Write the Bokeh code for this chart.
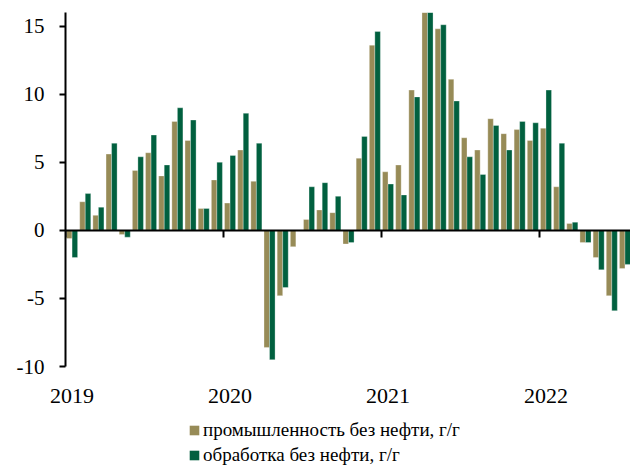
from bokeh.plotting import figure
from bokeh.layouts import column
from bokeh.models import (Range1d, LinearAxis, FixedTicker, Legend, LegendItem, ColumnDataSource)
from bokeh.embed import file_html
from bokeh.resources import INLINE

# Monthly data, Jan 2019 .. Jul 2022
months = list(range(43))
industry = [-0.6, 2.1, 1.1, 5.6, -0.3, 4.4, 5.7, 4.0, 8.0, 6.6, 1.6, 3.7,
            2.0, 5.9, 3.6, -8.6, -4.8, -1.2, 0.8, 1.5, 1.3, -1.0, 5.3, 13.6,
            4.3, 4.8, 10.3, 16.5, 14.8, 11.1, 6.8, 5.9, 8.2, 7.1, 7.4, 6.6,
            7.5, 3.2, 0.5, -0.9, -2.0, -4.8, -2.8]
manufacturing = [-2.0, 2.7, 1.7, 6.4, -0.5, 5.4, 7.0, 4.8, 9.0, 8.1, 1.6, 5.0,
                 5.5, 8.6, 6.4, -9.5, -4.2, 0.0, 3.2, 3.5, 2.5, -0.9, 6.9, 14.6,
                 3.4, 2.6, 9.8, 16.8, 15.1, 9.5, 5.4, 4.1, 7.7, 5.9, 8.0, 7.9,
                 10.3, 6.4, 0.6, -0.9, -2.9, -5.9, -2.5]
year_starts = [0, 12, 24, 36]
year_labels = ["2019", "2020", "2021", "2022"]
y_ticks = [-10, -5, 0, 5, 10, 15]
series_names = ["промышленность без нефти, г/г", "обработка без нефти, г/г"]

TAN = "#978B57"
GREEN = "#01603F"
FONT = "serif"

src = ColumnDataSource(dict(
    x1=[m + 0.29 for m in months], x2=[m + 0.71 for m in months],
    a=industry, b=manufacturing))

p = figure(width=630, height=406, output_backend="svg", toolbar_location=None,
           x_range=Range1d(0, 42.92), y_range=Range1d(-10, 16),
           min_border_left=65, min_border_right=0, min_border_top=12,
           min_border_bottom=10, x_axis_location=None, y_axis_location=None)
p.outline_line_color = None
p.xgrid.visible = False
p.ygrid.visible = False
p.background_fill_color = "white"

r1 = p.vbar(x="x1", top="a", bottom=0, width=0.42, source=src, fill_color=TAN,
            line_color="white", line_width=0.6, line_alpha=0.5)
r2 = p.vbar(x="x2", top="b", bottom=0, width=0.42, source=src, fill_color=GREEN,
            line_color="white", line_width=0.6, line_alpha=0.5)

# y axis
ya = LinearAxis(ticker=FixedTicker(ticks=y_ticks))
ya.major_label_overrides = {t: str(t) for t in y_ticks}
ya.axis_line_width = 2
ya.axis_line_color = "black"
ya.major_tick_line_width = 2
ya.major_tick_out = 6
ya.major_tick_in = 0
ya.minor_tick_line_color = None
ya.major_label_text_font = FONT
ya.major_label_text_font_size = "21px"
ya.major_label_text_color = "black"
ya.major_label_standoff = 15
p.add_layout(ya, "left")

# zero axis with year ticks
xa0 = LinearAxis(fixed_location=0, ticker=FixedTicker(ticks=year_starts))
xa0.axis_line_width = 2
xa0.axis_line_color = "black"
xa0.major_tick_line_width = 2
xa0.major_tick_out = 7
xa0.major_tick_in = 0
xa0.minor_tick_line_color = None
xa0.major_label_text_alpha = 0
xa0.major_label_text_font_size = "1px"
p.add_layout(xa0, "below")

# bottom labels
xa1 = LinearAxis(ticker=FixedTicker(ticks=[s + 0.5 for s in year_starts]))
xa1.major_label_overrides = {s + 0.5: lab for s, lab in zip(year_starts, year_labels)}
xa1.axis_line_color = None
xa1.major_tick_line_color = None
xa1.minor_tick_line_color = None
xa1.major_label_text_font = FONT
xa1.major_label_text_font_size = "22px"
xa1.major_label_text_color = "black"
xa1.major_label_standoff = 16
p.add_layout(xa1, "below")
p.min_border_bottom = 40

# legend panel
p2 = figure(width=630, height=61, output_backend="svg", toolbar_location=None,
            min_border=0, x_axis_location=None, y_axis_location=None,
            x_range=Range1d(0, 1), y_range=Range1d(0, 1))
p2.outline_line_color = None
p2.xgrid.visible = False
p2.ygrid.visible = False
dummy = ColumnDataSource(dict(x=[-5], top=[-5]))
d1 = p2.vbar(x="x", top="top", width=1, source=dummy, fill_color=TAN, line_color=None)
d2 = p2.vbar(x="x", top="top", width=1, source=dummy, fill_color=GREEN, line_color=None)

legend = Legend(items=[LegendItem(label=series_names[0], renderers=[d1]),
                       LegendItem(label=series_names[1], renderers=[d2])],
                location=(123, 1), orientation="vertical",
                border_line_color=None, background_fill_alpha=0,
                padding=0, margin=0, spacing=3, glyph_width=12, glyph_height=12,
                label_text_font=FONT, label_text_font_size="19px",
                label_text_color="black", label_standoff=3, label_height=17)
p2.add_layout(legend, "center")

open("out.html", "w").write(file_html(column(p, p2, spacing=0), INLINE))
